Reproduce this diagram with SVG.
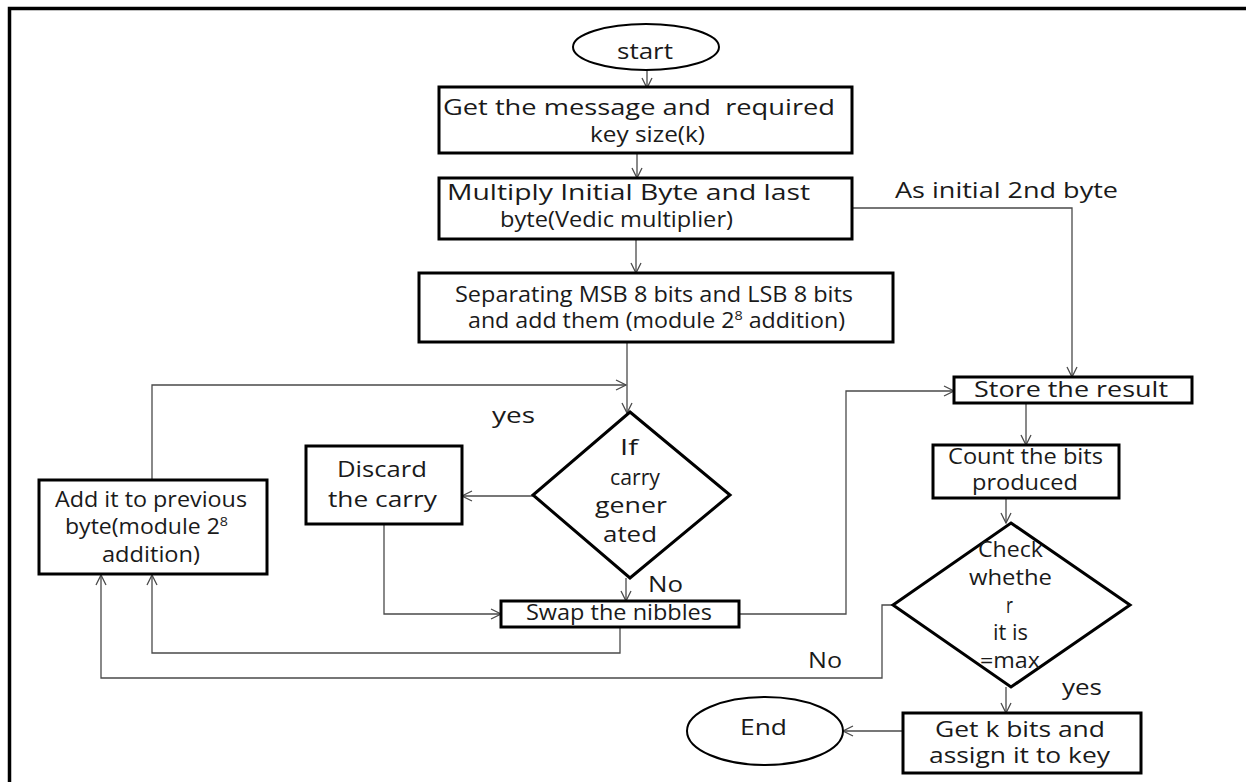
<svg xmlns="http://www.w3.org/2000/svg" width="1246" height="782" viewBox="0 0 1246 782">
  <style>
    .box { fill: #ffffff; stroke: #000000; stroke-width: 3; }
    .term { fill: #ffffff; stroke: #000000; stroke-width: 2; }
    .dec { fill: #ffffff; stroke: #000000; stroke-width: 3; stroke-linejoin: miter; }
    .wire { fill: none; stroke: #4a4a4a; stroke-width: 1.3; }
    .lbl { font-family: "Open Sans", Lato, sans-serif; font-size: 21px; fill: #1a1a1a; }
  </style>
  <defs>
    <marker id="arr" viewBox="0 0 12 12" refX="11" refY="6" markerWidth="12" markerHeight="12" markerUnits="userSpaceOnUse" orient="auto">
      <path d="M1,1 L11,6 L1,11" fill="none" stroke="#4a4a4a" stroke-width="1.3"/>
    </marker>
  </defs>
  <rect width="1246" height="782" fill="#ffffff"/>
  <!-- page frame -->
  <path d="M9.5,782 V8.5 H1246" fill="none" stroke="#000000" stroke-width="3.5"/>

  <g id="connectors">
    <path class="wire" d="M647,70 V88" marker-end="url(#arr)"/>
    <path class="wire" d="M637,153 V178" marker-end="url(#arr)"/>
    <path class="wire" d="M636,239 V273" marker-end="url(#arr)"/>
    <path class="wire" d="M627,342 V413" marker-end="url(#arr)"/>
    <path class="wire" d="M152,480 V385 H626" marker-end="url(#arr)"/>
    <path class="wire" d="M533,496 H462" marker-end="url(#arr)"/>
    <path class="wire" d="M384,524 V614 H501" marker-end="url(#arr)"/>
    <path class="wire" d="M626,578 V601" marker-end="url(#arr)"/>
    <path class="wire" d="M620,627 V653 H152 V575" marker-end="url(#arr)"/>
    <path class="wire" d="M739,614 H846 V391 H954" marker-end="url(#arr)"/>
    <path class="wire" d="M852,208 H1072 V377" marker-end="url(#arr)"/>
    <path class="wire" d="M1026,403 V445" marker-end="url(#arr)"/>
    <path class="wire" d="M1006,498 V523" marker-end="url(#arr)"/>
    <path class="wire" d="M893,605 H882 V678 H101 V575" marker-end="url(#arr)"/>
    <path class="wire" d="M1006,687 V713" marker-end="url(#arr)"/>
    <path class="wire" d="M903,731 H843" marker-end="url(#arr)"/>
    <text class="lbl" x="895" y="198" textLength="223" lengthAdjust="spacingAndGlyphs">As initial 2nd byte</text>
    <text class="lbl" x="492" y="423" textLength="43" lengthAdjust="spacingAndGlyphs">yes</text>
    <text class="lbl" x="648" y="592" textLength="35" lengthAdjust="spacingAndGlyphs">No</text>
    <text class="lbl" x="808" y="668" textLength="34" lengthAdjust="spacingAndGlyphs">No</text>
    <text class="lbl" x="1062" y="695" textLength="40" lengthAdjust="spacingAndGlyphs">yes</text>
  </g>

  <g id="start">
    <ellipse class="term" cx="646" cy="47" rx="73" ry="23"/>
    <text class="lbl" x="617" y="59" textLength="56" lengthAdjust="spacingAndGlyphs">start</text>
  </g>

  <g id="get-message">
    <rect class="box" x="439" y="87" width="413" height="66"/>
    <text class="lbl" x="443" y="115" textLength="392" lengthAdjust="spacingAndGlyphs" xml:space="preserve">Get the message and  required</text>
    <text class="lbl" x="590" y="142" textLength="115" lengthAdjust="spacingAndGlyphs">key size(k)</text>
  </g>

  <g id="multiply">
    <rect class="box" x="439" y="178" width="413" height="61"/>
    <text class="lbl" x="447" y="200" textLength="363" lengthAdjust="spacingAndGlyphs">Multiply Initial Byte and last</text>
    <text class="lbl" x="500" y="227" textLength="233" lengthAdjust="spacingAndGlyphs">byte(Vedic multiplier)</text>
  </g>

  <g id="separate">
    <rect class="box" x="419" y="273" width="474" height="69"/>
    <text class="lbl" x="455" y="302" textLength="398" lengthAdjust="spacingAndGlyphs">Separating MSB 8 bits and LSB 8 bits</text>
    <text class="lbl" x="468" y="328" textLength="377" lengthAdjust="spacingAndGlyphs">and add them (module 2<tspan dy="-8" font-size="13">8</tspan><tspan dy="8"> addition)</tspan></text>
  </g>

  <g id="carry-check">
    <polygon class="dec" points="630,412 730,495 630,578 533,495"/>
    <text class="lbl" x="620" y="455" textLength="18" lengthAdjust="spacingAndGlyphs">If</text>
    <text class="lbl" x="610" y="485" textLength="50" lengthAdjust="spacingAndGlyphs">carry</text>
    <text class="lbl" x="595" y="513" textLength="72" lengthAdjust="spacingAndGlyphs">gener</text>
    <text class="lbl" x="603" y="542" textLength="54" lengthAdjust="spacingAndGlyphs">ated</text>
  </g>

  <g id="discard">
    <rect class="box" x="306" y="446" width="156" height="78"/>
    <text class="lbl" x="337" y="477" textLength="90" lengthAdjust="spacingAndGlyphs">Discard</text>
    <text class="lbl" x="328" y="507" textLength="109" lengthAdjust="spacingAndGlyphs">the carry</text>
  </g>

  <g id="add-previous">
    <rect class="box" x="39" y="480" width="228" height="94"/>
    <text class="lbl" x="55" y="507" textLength="192" lengthAdjust="spacingAndGlyphs">Add it to previous</text>
    <text class="lbl" x="65" y="534" textLength="163" lengthAdjust="spacingAndGlyphs">byte(module 2<tspan dy="-8" font-size="13">8</tspan></text>
    <text class="lbl" x="102" y="562" textLength="98" lengthAdjust="spacingAndGlyphs">addition)</text>
  </g>

  <g id="swap">
    <rect class="box" x="501" y="601" width="238" height="26"/>
    <text class="lbl" x="526" y="620" textLength="186" lengthAdjust="spacingAndGlyphs">Swap the nibbles</text>
  </g>

  <g id="store">
    <rect class="box" x="954" y="377" width="238" height="26"/>
    <text class="lbl" x="974" y="397" textLength="194" lengthAdjust="spacingAndGlyphs">Store the result</text>
  </g>

  <g id="count">
    <rect class="box" x="933" y="445" width="186" height="53"/>
    <text class="lbl" x="948" y="464" textLength="155" lengthAdjust="spacingAndGlyphs">Count the bits</text>
    <text class="lbl" x="972" y="490" textLength="106" lengthAdjust="spacingAndGlyphs">produced</text>
  </g>

  <g id="max-check">
    <polygon class="dec" points="1011,523 1130,605 1011,687 893,605"/>
    <text class="lbl" x="978" y="557" textLength="65" lengthAdjust="spacingAndGlyphs">Check</text>
    <text class="lbl" x="969" y="585" textLength="83" lengthAdjust="spacingAndGlyphs">whethe</text>
    <text class="lbl" x="1006" y="613" textLength="7" lengthAdjust="spacingAndGlyphs">r</text>
    <text class="lbl" x="993" y="640" textLength="35" lengthAdjust="spacingAndGlyphs">it is</text>
    <text class="lbl" x="980" y="668" textLength="60" lengthAdjust="spacingAndGlyphs">=max</text>
  </g>

  <g id="get-k-bits">
    <rect class="box" x="903" y="713" width="238" height="60"/>
    <text class="lbl" x="935" y="737" textLength="170" lengthAdjust="spacingAndGlyphs">Get k bits and</text>
    <text class="lbl" x="929" y="763" textLength="181" lengthAdjust="spacingAndGlyphs">assign it to key</text>
  </g>

  <g id="end">
    <ellipse class="term" cx="765" cy="731" rx="78" ry="34"/>
    <text class="lbl" x="740" y="735" textLength="47" lengthAdjust="spacingAndGlyphs">End</text>
  </g>
</svg>
